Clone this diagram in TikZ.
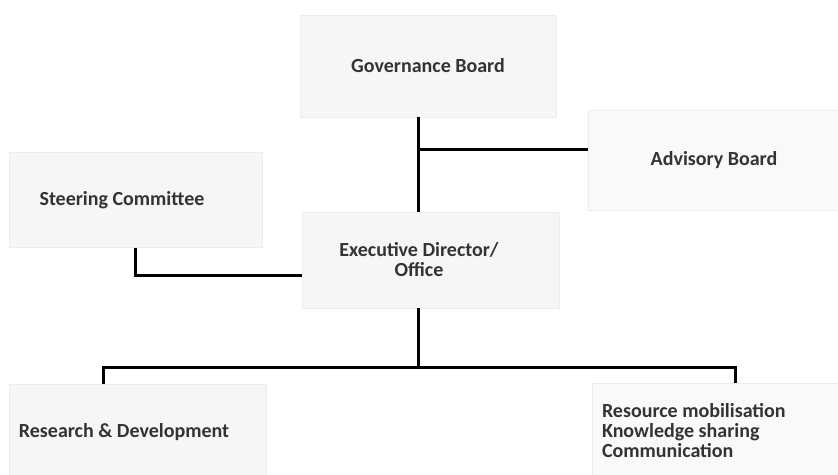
\documentclass[tikz,border=0pt]{standalone}
\usepackage{fontspec}
\setmainfont{Carlito}
\usepackage{tikz}

\begin{document}
\begin{tikzpicture}[x=0.5pt, y=-0.5pt, line width=1.5pt,
    unit/.style={fill=gray!7, draw=gray!14, line width=0.4pt, inner sep=0pt,
                 font=\fontsize{10}{10}\selectfont\bfseries, text=black!80},
    tint/.style={unit, fill=yellow!6!gray!6}]
    \useasboundingbox (0, 0) rectangle (838, 475);

    \node[unit, minimum width=128pt, minimum height=51pt](gov) at (428, 66) {Governance Board};
    \node[tint, minimum width=126pt, minimum height=50pt](adv) at (714, 160) {\raisebox{-3pt}{Advisory Board}};
    \node[unit, minimum width=126.5pt, minimum height=47.5pt](steer) at (136, 200) {\hspace*{-14pt}Steering Committee};
    \node[unit, minimum width=128.5pt, minimum height=48pt, align=center](exec) at (431, 260)
        {\hspace*{-12pt}Executive Director/\\\hspace*{-12pt}Office};
    \node[unit, minimum width=128.5pt, minimum height=47.5pt](rd) at (138, 432) {\hspace*{-14pt}Research \& Development};
    \node[tint, minimum width=124pt, minimum height=47.5pt, text width=114pt, align=flush left](res) at (716, 431)
        {Resource mobilisation\\Knowledge sharing\\Communication};

    \coordinate(jadv) at (418, 150);
    \coordinate(kink) at (135, 275);
    \coordinate(jbot) at (418, 367);

    \draw (gov.south -| jadv) -- (exec.north -| jadv)
          (jadv) -- (jadv -| adv.west);
    \draw (steer.south -| kink) -- (kink) -- (kink -| exec.west);
    \draw (exec.south -| jbot) -- (jbot);
    \draw (rd.north -| 103, 0) -- (jbot -| 103, 0) -- (jbot -| 735, 0) -- (res.north -| 735, 0);
\end{tikzpicture}
\end{document}
